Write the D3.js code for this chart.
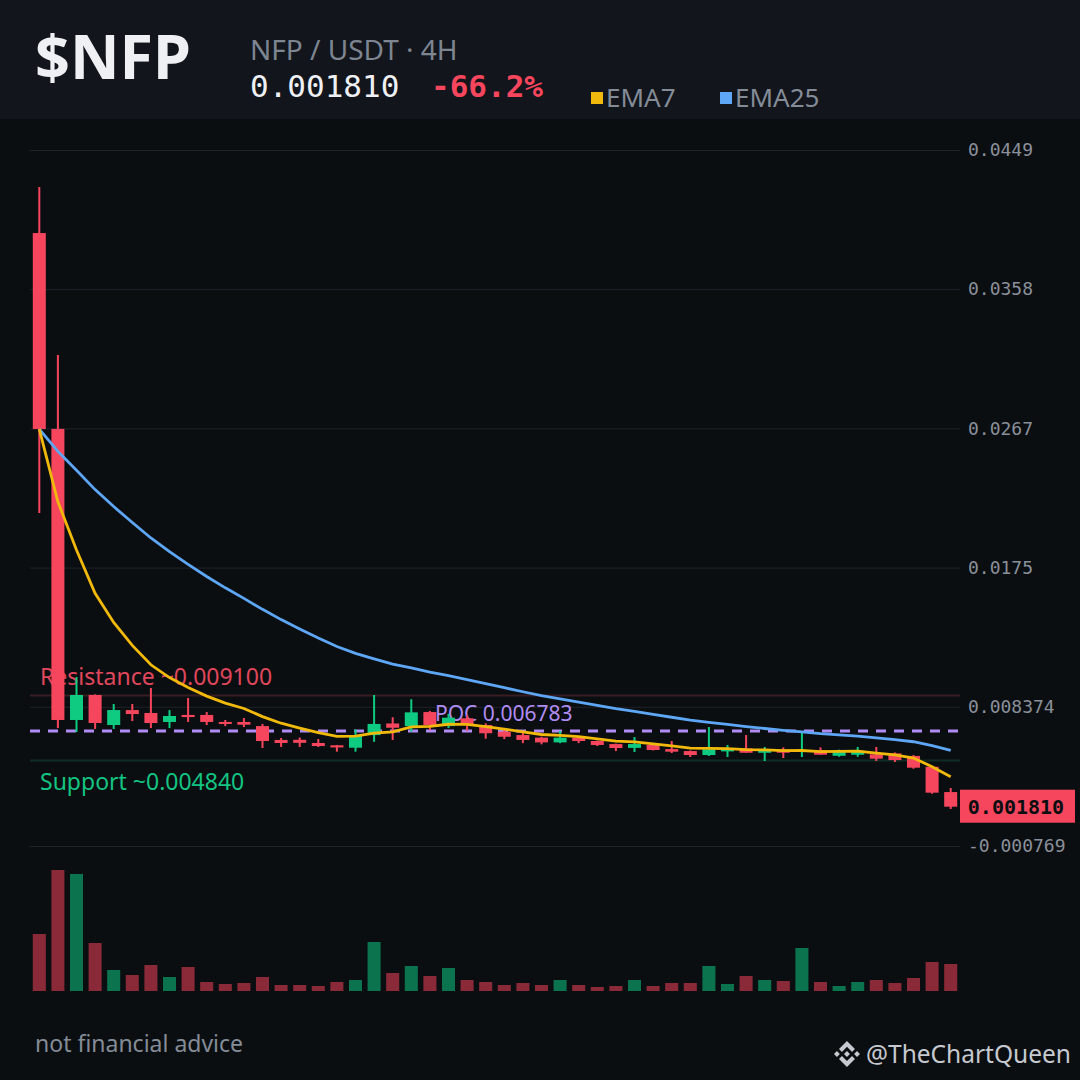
<!DOCTYPE html>
<html>
<head>
<meta charset="utf-8">
<script src="https://cdn.jsdelivr.net/npm/d3@7"></script>
<style>
  html, body { margin: 0; padding: 0; background: #0b0e11; }
  svg { display: block; }
</style>
</head>
<body>
<div id="chart"></div>
<script>
// candles, 4H, oldest first
var opens  = [0.03945, 0.02660, 0.00750, 0.00914, 0.00717, 0.00815, 0.00796, 0.00737, 0.00783, 0.00783,
              0.00737, 0.00737, 0.00710, 0.00619, 0.00620, 0.00599, 0.00584, 0.00568, 0.00651, 0.00727,
              0.00710, 0.00802, 0.00710, 0.00761, 0.00717, 0.00673, 0.00651, 0.00634, 0.00603, 0.00634,
              0.00612, 0.00592, 0.00567, 0.00586, 0.00559, 0.00546, 0.00520, 0.00546, 0.00564, 0.00535,
              0.00557, 0.00546, 0.00553, 0.00515, 0.00522, 0.00525, 0.00531, 0.00514, 0.00443, 0.00277]
var highs  = [0.04247, 0.03145, 0.01032, 0.00918, 0.00855, 0.00855, 0.00960, 0.00815, 0.00894, 0.00802,
              0.00750, 0.00763, 0.00724, 0.00632, 0.00635, 0.00625, 0.00586, 0.00689, 0.00914, 0.00768,
              0.00886, 0.00809, 0.00790, 0.00780, 0.00728, 0.00695, 0.00669, 0.00640, 0.00678, 0.00640,
              0.00615, 0.00595, 0.00638, 0.00590, 0.00612, 0.00550, 0.00704, 0.00586, 0.00651, 0.00573,
              0.00570, 0.00669, 0.00570, 0.00555, 0.00573, 0.00573, 0.00537, 0.00520, 0.00445, 0.00304]
var lows   = [0.02108, 0.00697, 0.00671, 0.00691, 0.00691, 0.00743, 0.00697, 0.00697, 0.00737, 0.00717,
              0.00710, 0.00704, 0.00566, 0.00573, 0.00573, 0.00573, 0.00542, 0.00542, 0.00607, 0.00619,
              0.00673, 0.00684, 0.00697, 0.00679, 0.00627, 0.00624, 0.00598, 0.00590, 0.00598, 0.00598,
              0.00579, 0.00546, 0.00540, 0.00550, 0.00533, 0.00507, 0.00514, 0.00507, 0.00535, 0.00481,
              0.00500, 0.00507, 0.00522, 0.00509, 0.00509, 0.00481, 0.00474, 0.00430, 0.00266, 0.00166]
var closes = [0.02659, 0.00750, 0.00914, 0.00730, 0.00815, 0.00789, 0.00730, 0.00776, 0.00769, 0.00737,
              0.00724, 0.00719, 0.00612, 0.00599, 0.00600, 0.00579, 0.00570, 0.00645, 0.00724, 0.00699,
              0.00800, 0.00717, 0.00765, 0.00717, 0.00663, 0.00640, 0.00619, 0.00603, 0.00634, 0.00612,
              0.00586, 0.00566, 0.00592, 0.00553, 0.00542, 0.00520, 0.00558, 0.00557, 0.00535, 0.00548,
              0.00535, 0.00553, 0.00522, 0.00550, 0.00548, 0.00496, 0.00487, 0.00437, 0.00273, 0.00181]
var volumes = [57, 121, 117, 48, 21, 16, 26, 14, 24, 9,
               7, 8, 14, 6, 6, 5, 9, 11, 49, 18,
               25, 15, 23, 11, 9, 6, 8, 6, 11, 6,
               4, 5, 11, 5, 8, 8, 25, 7, 15, 11,
               10, 43, 9, 5, 9, 11, 8, 13, 29, 27]

var priceMin = -0.000769, priceMax = 0.0449
var tickLabels = ['-0.000769', '0.008374', '0.0175', '0.0267', '0.0358', '0.0449']
var resistance = 0.009100, support = 0.004840, poc = 0.006783
var lastPrice = '0.001810', change = '-66.2%'

var W = 1080, H = 1080
var UP = '#0ecb81', DOWN = '#f6465d'
var MONO = '"DejaVu Sans Mono", monospace'
var SANS = '"Noto Sans", "Open Sans", sans-serif'

var svg = d3.select('#chart').append('svg')
  .attr('width', W).attr('height', H)
  .attr('viewBox', '0 0 ' + W + ' ' + H)

svg.append('rect').attr('width', W).attr('height', H).attr('fill', '#0b0e11')

// header band
var head = svg.append('g')
head.append('rect').attr('width', W).attr('height', 119).attr('fill', '#12151c')
head.append('text').attr('x', 35).attr('y', 79)
  .style('font-family', SANS).style('font-weight', 700).style('font-size', '61px')
  .attr('fill', '#eef0f3').text('$NFP')
head.append('text').attr('x', 250).attr('y', 60)
  .style('font-family', SANS).style('font-size', '28px')
  .attr('fill', '#7d8591').text('NFP / USDT · 4H')
head.append('text').attr('x', 250).attr('y', 97)
  .style('font-family', MONO).style('font-size', '31px')
  .attr('fill', '#eef0f3').text(lastPrice)
head.append('text').attr('x', 431).attr('y', 97)
  .style('font-family', MONO).style('font-weight', 700).style('font-size', '31px')
  .attr('fill', DOWN).text(change)

// legend
var legend = [['EMA7', '#f0b90b', 591], ['EMA25', '#5ea7f6', 720]]
legend.forEach(function (d) {
  head.append('rect').attr('x', d[2]).attr('y', 92).attr('width', 12).attr('height', 12).attr('fill', d[1])
  head.append('text').attr('x', d[2] + 15).attr('y', 107)
    .style('font-family', SANS).style('font-size', '26px')
    .attr('fill', '#848c98').text(d[0])
})

// scales
var idx = d3.range(closes.length)
var x = d3.scaleBand().domain(idx).range([30, 960]).paddingInner(0.3).paddingOuter(0.15)
var y = d3.scaleLinear().domain([priceMin, priceMax]).range([846, 150])
var yv = d3.scaleLinear().domain([0, d3.max(volumes)]).range([991, 870])
var cx = function (i) { return x(i) + x.bandwidth() / 2 }

// grid + price axis
var tickValues = d3.range(6).map(function (i) { return priceMin + i * (priceMax - priceMin) / 5 })
var axis = d3.axisRight(y).tickValues(tickValues)
  .tickSize(930).tickPadding(8)
  .tickFormat(function (d, i) { return tickLabels[i] })
var ga = svg.append('g').attr('transform', 'translate(30,0)').call(axis)
ga.select('.domain').remove()
ga.selectAll('.tick line').attr('stroke', '#1f242a').attr('stroke-width', 1)
ga.selectAll('.tick text').attr('fill', '#8a909a')
  .style('font-family', MONO).style('font-size', '18px')

// support / resistance / poc
svg.append('line').attr('x1', 30).attr('x2', 960).attr('y1', y(resistance)).attr('y2', y(resistance))
  .attr('stroke', '#3a1c23').attr('stroke-width', 2)
svg.append('line').attr('x1', 30).attr('x2', 960).attr('y1', y(support)).attr('y2', y(support))
  .attr('stroke', '#0f2c24').attr('stroke-width', 2)
svg.append('text').attr('x', 40).attr('y', y(resistance) - 11)
  .style('font-family', SANS).style('font-size', '23px')
  .attr('fill', '#e0475c').text('Resistance ~' + resistance.toFixed(6))
svg.append('text').attr('x', 40).attr('y', y(support) + 29)
  .style('font-family', SANS).style('font-size', '23px')
  .attr('fill', '#13c482').text('Support ~' + support.toFixed(6))
svg.append('text').attr('x', 435).attr('y', y(poc) - 10)
  .style('font-family', SANS).style('font-size', '21px')
  .attr('fill', '#b08cf2').text('POC ' + poc.toFixed(6))
svg.append('line').attr('x1', 30).attr('x2', 960).attr('y1', y(poc)).attr('y2', y(poc))
  .attr('stroke', '#b18cf5').attr('stroke-width', 3).attr('stroke-dasharray', '10,8')

// volume
svg.append('g').selectAll('rect').data(idx).join('rect')
  .attr('x', function (i) { return x(i) })
  .attr('width', x.bandwidth())
  .attr('y', function (i) { return yv(volumes[i]) })
  .attr('height', function (i) { return yv(0) - yv(volumes[i]) })
  .attr('fill', function (i) { return closes[i] >= opens[i] ? '#0b744e' : '#8a2a38' })

// candles
var candles = svg.append('g').selectAll('g').data(idx).join('g')
  .attr('fill', function (i) { return closes[i] >= opens[i] ? UP : DOWN })
candles.append('rect')
  .attr('x', function (i) { return cx(i) - 1 }).attr('width', 2)
  .attr('y', function (i) { return y(highs[i]) })
  .attr('height', function (i) { return y(lows[i]) - y(highs[i]) })
candles.append('rect')
  .attr('x', function (i) { return x(i) }).attr('width', x.bandwidth())
  .attr('y', function (i) { return y(Math.max(opens[i], closes[i])) })
  .attr('height', function (i) { return Math.max(2, Math.abs(y(opens[i]) - y(closes[i]))) })

// ema lines from closes
function ema (vals, n) {
  var k = 2 / (n + 1), out = [], prev
  vals.forEach(function (v, i) {
    prev = i === 0 ? v : v * k + prev * (1 - k)
    out.push(prev)
  })
  return out
}
var line = d3.line().x(function (d, i) { return cx(i) }).y(function (d) { return y(d) })
svg.append('path').datum(ema(closes, 25)).attr('d', line)
  .attr('fill', 'none').attr('stroke', '#5ea7f6').attr('stroke-width', 2.8)
svg.append('path').datum(ema(closes, 7)).attr('d', line)
  .attr('fill', 'none').attr('stroke', '#f0b90b').attr('stroke-width', 2.8)

// last price tag
var yl = y(closes[closes.length - 1])
svg.append('rect').attr('x', 960).attr('y', yl - 17).attr('width', 115).attr('height', 33).attr('fill', DOWN)
svg.append('text').attr('x', 1016).attr('y', yl + 7).attr('text-anchor', 'middle')
  .style('font-family', MONO).style('font-weight', 700).style('font-size', '20px')
  .attr('fill', '#0b0e11').text(lastPrice)

// footer
svg.append('text').attr('x', 35).attr('y', 1052)
  .style('font-family', SANS).style('font-size', '23px')
  .attr('fill', '#848c98').text('not financial advice')
svg.append('text').attr('x', 1071).attr('y', 1063).attr('text-anchor', 'end')
  .style('font-family', SANS).style('font-size', '24.5px')
  .attr('fill', '#c6cad0').text('@TheChartQueen')
svg.append('path')
  .attr('transform', 'translate(834,1041) scale(0.205)')
  .attr('fill', '#c6cad0')
  .attr('d', 'M38.73,53.2l24.59-24.58,24.6,24.6,14.3-14.31L63.32,0,24.43,38.89Z M0,63.31l14.3-14.31,14.31,14.31L14.3,77.61Z M38.73,73.41L63.32,98l24.6-24.6,14.31,14.29L63.32,126.61,24.43,87.72Z M98,63.31l14.3-14.31,14.31,14.3L112.3,77.61Z M77.83,63.3L63.32,48.78,48.81,63.28,63.32,77.79Z')
</script>
</body>
</html>
